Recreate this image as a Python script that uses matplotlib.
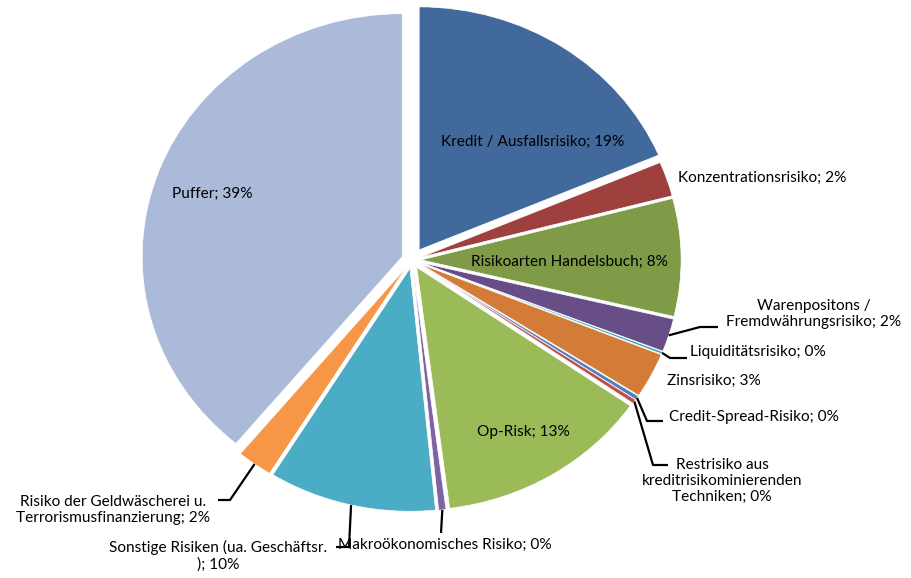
import numpy as np
import matplotlib.pyplot as plt

# Risikodeckungspotenzial - Aufteilung (Werte in %)
categories = [
    "Kredit / Ausfallsrisiko",
    "Konzentrationsrisiko",
    "Risikoarten Handelsbuch",
    "Warenpositons /\nFremdwährungsrisiko",
    "Liquiditätsrisiko",
    "Zinsrisiko",
    "Credit-Spread-Risiko",
    "Restrisiko aus\nkreditrisikominierenden\nTechniken",
    "Op-Risk",
    "Makroökonomisches Risiko",
    "Sonstige Risiken (ua. Geschäftsr.\n)",
    "Risiko der Geldwäscherei u.\nTerrorismusfinanzierung",
    "Puffer",
]
values = [18.6, 2.3, 7.8, 2.2, 0.15, 3.0, 0.28, 0.28, 13.3, 0.45, 10.4, 2.2, 38.9]
colors = ["#41699b", "#9e413e", "#7f9b48", "#684e87", "#3c9db8", "#d27c38",
          "#4f81bd", "#c0504d", "#9bbb59", "#8064a2", "#4bacc6", "#f79646",
          "#aabad8"]
explode = [0.05, 0.035, 0.035, 0.035, 0.035, 0.035, 0.035, 0.035, 0.035,
           0.035, 0.035, 0.035, 0.04]

# pie position in the picture (pixels); the original is a bit wider than tall
W, H = 912, 578
CX, CY, RX, RY = 412, 260, 260, 243


def px(x, y):
    return (x - CX) / RX, (CY - y) / RY


# label layout: (text x, text y, ha, leader points after the slice edge)
layout = [
    (533, 142, "center", None),
    (678, 178, "left", None),
    (569, 262, "center", None),
    (814, 314, "center", [(700, 327), (718, 327)]),
    (690, 352, "left", [(670, 358), (687, 358)]),
    (667, 381, "left", None),
    (669, 417, "left", [(647, 421), (663, 421)]),
    (722, 481, "center", [(653, 465), (668, 465)]),
    (523, 432, "center", None),
    (338, 545, "left", [(441, 533)]),
    (218, 556, "center", [(349, 547), (336, 547)]),
    (113, 510, "center", [(230, 500), (218, 500)]),
    (212, 194, "center", None),
]

plt.rcParams["font.family"] = ["Lato", "DejaVu Sans"]

fig = plt.figure(figsize=(W / 100, H / 100), dpi=100)
ax = fig.add_axes([0, 0, 1, 1])
wedges, _ = ax.pie(values, colors=colors, startangle=90, counterclock=False,
                   explode=explode,
                   wedgeprops=dict(edgecolor="white", linewidth=0.5))
ax.set_aspect("auto")
ax.set_xlim(px(0, 0)[0], px(W, 0)[0])
ax.set_ylim(px(0, H)[1], px(0, 0)[1])
ax.axis("off")

total = sum(values)
for w, cat, v, (tx, ty, ha, leader) in zip(wedges, categories, values, layout):
    text = f"{cat}; {round(v / total * 100):.0f}%"
    ax.text(*px(tx, ty), text, ha=ha, va="center", fontsize=11.1,
            color="black", linespacing=1.2, multialignment="center")
    if leader:
        mid = np.deg2rad((w.theta1 + w.theta2) / 2)
        sx = w.center[0] + w.r * np.cos(mid)
        sy = w.center[1] + w.r * np.sin(mid)
        pts = [(sx, sy)] + [px(x, y) for x, y in leader]
        ax.plot([p[0] for p in pts], [p[1] for p in pts], color="black",
                lw=1.6, solid_capstyle="butt")

fig.savefig("out.png", dpi=100, facecolor="white")
